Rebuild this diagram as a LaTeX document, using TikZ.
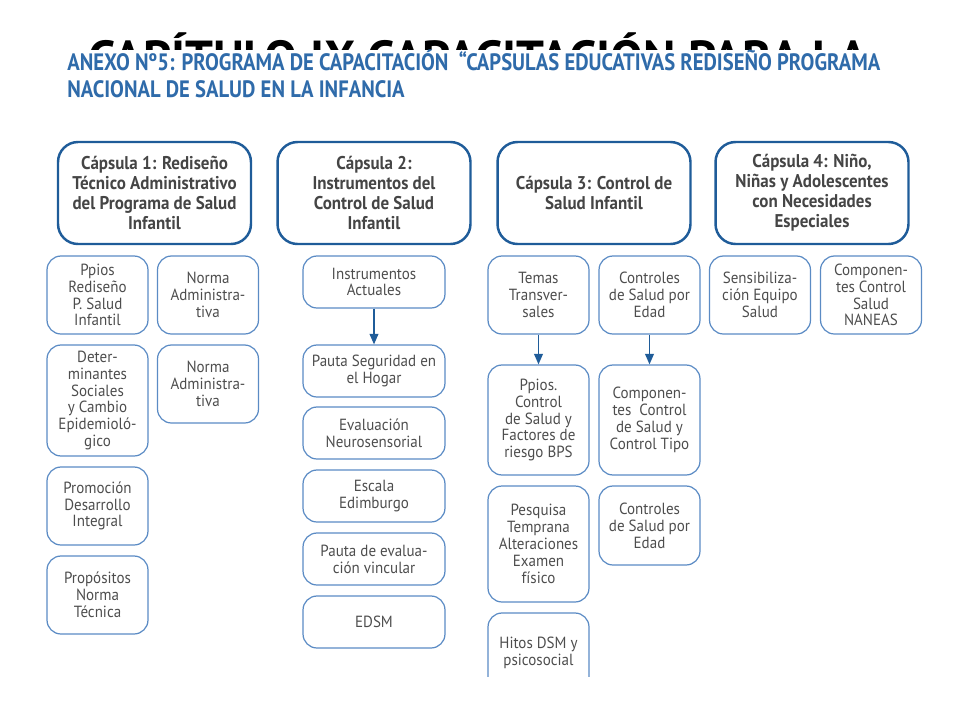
\documentclass[tikz,border=0pt]{standalone}
\usepackage{fontspec}
\setmainfont{PT Sans}[FakeStretch=0.93]
\newfontfamily\titlefont{PT Sans}[FakeStretch=0.87]
\newfontfamily\headfont{PT Sans}[FakeStretch=0.92]
\newfontfamily\capfont{PT Sans}
\usetikzlibrary{arrows.meta}
\definecolor{headblue}{HTML}{1F5C99}
\definecolor{itemblue}{HTML}{5B8BC4}
\definecolor{titleblue}{HTML}{2F6BAA}
\definecolor{txtgray}{HTML}{4D4D4D}
\tikzset{
  capsula/.style={draw=headblue, line width=1.4pt, rounded corners=0.4cm,
    minimum width=3.86cm, minimum height=2.04cm, align=center, text=txtgray!90!black,
    font=\headfont\bfseries\fontsize{10.5}{11.4}\selectfont},
  tema/.style={draw=itemblue, line width=0.7pt, rounded corners=0.28cm,
    minimum width=2.02cm, align=center, text=txtgray,
    font=\fontsize{9.2}{9.6}\selectfont},
  ancho/.style={minimum width=2.84cm, minimum height=1.04cm},
  flecha/.style={draw=headblue, line width=0.8pt, -{Triangle[width=5pt,length=6pt]}}
}
\begin{document}
\begin{tikzpicture}[x=0.02cm,y=-0.02cm]
\useasboundingbox (0,0) rectangle (960,720);
% titulo de fondo, tapado por el anexo
\node[anchor=north, inner sep=0pt] (capitulo) at (478,32)
  {\resizebox{15.6cm}{!}{\capfont\bfseries CAPÍTULO IX CAPACITACIÓN PARA LA}};
\fill[white] (0,50) rectangle (960,110);
\node[anchor=base west, inner sep=0pt, text=titleblue, font=\titlefont\bfseries\fontsize{13.5}{15}\selectfont]
  (anexo1) at (67,70) {ANEXO Nº5: PROGRAMA DE CAPACITACIÓN \ “CAPSULAS EDUCATIVAS REDISEÑO PROGRAMA};
\node[anchor=base west, inner sep=0pt, text=titleblue, font=\titlefont\bfseries\fontsize{13.5}{15}\selectfont]
  (anexo2) at (67,97) {NACIONAL DE SALUD EN LA INFANCIA};
\begin{scope}
\clip (0,0) rectangle (960,676);
% capsulas
\node[capsula] (cap1) at (154.5,193) {Cápsula 1: Rediseño\\Técnico Administrativo\\del Programa de Salud\\Infantil};
\node[capsula] (cap2) at (374,193) {Cápsula 2:\\Instrumentos del\\Control de Salud\\Infantil};
\node[capsula] (cap3) at (594,193) {Cápsula 3: Control de\\Salud Infantil};
\node[capsula] (cap4) at (812,193) {Cápsula 4: Niño,\\Niñas y Adolescentes\\con Necesidades\\Especiales};
% capsula 1
\node[tema, minimum height=1.56cm] (ppios) at (97.5,295) {Ppios\\Rediseño\\P. Salud\\Infantil};
\node[tema, minimum height=1.56cm] (norma1) at (208,295) {Norma\\Administra-\\tiva};
\node[tema, minimum height=2.22cm] (determ) at (97.5,400.5) {Deter-\\minantes\\Sociales\\y Cambio\\Epidemioló-\\gico};
\node[tema, minimum height=1.56cm] (norma2) at (208,384) {Norma\\Administra-\\tiva};
\node[tema, minimum height=1.56cm] (promo) at (97.5,506) {Promoción\\Desarrollo\\Integral};
\node[tema, minimum height=1.56cm] (propos) at (97.5,595) {Propósitos\\Norma\\Técnica};
% capsula 2
\node[tema, ancho] (instr) at (374,282) {Instrumentos\\Actuales};
\node[tema, ancho] (segur) at (374,371) {Pauta Seguridad en\\el Hogar};
\node[tema, ancho] (neuro) at (374,433) {Evaluación\\Neurosensorial};
\node[tema, ancho] (edimb) at (374,496) {Escala\\Edimburgo};
\node[tema, ancho] (vincul) at (374,559) {Pauta de evalua-\\ción vincular};
\node[tema, ancho] (edsm) at (374,622) {EDSM};
\draw[flecha] (instr.south) -- (segur.north);
% capsula 3
\node[tema, minimum height=1.56cm] (temas) at (538.5,295) {Temas\\Transver-\\sales};
\node[tema, minimum height=1.56cm] (ctrl1) at (649.5,295) {Controles\\de Salud por\\Edad};
\node[tema, minimum height=2.2cm] (ppiosctrl) at (538.5,420) {Ppios.\\Control\\de Salud y\\Factores de\\riesgo BPS};
\node[tema, minimum height=2.2cm] (compctrl) at (649.5,420) {Componen-\\tes \ Control\\de Salud y\\Control Tipo};
\node[tema, minimum height=2.32cm] (pesq) at (538.5,544) {Pesquisa\\Temprana\\Alteraciones\\Examen\\físico};
\node[tema, minimum height=1.58cm] (ctrl2) at (649.5,525.5) {Controles\\de Salud por\\Edad};
\node[tema, minimum height=1.6cm] (hitos) at (538.5,653) {Hitos DSM y\\psicosocial};
\draw[flecha] (temas.south) -- (ppiosctrl.north);
\draw[flecha] (ctrl1.south) -- (compctrl.north);
% capsula 4
\node[tema, minimum height=1.56cm] (sensib) at (760,295) {Sensibiliza-\\ción Equipo\\Salud};
\node[tema, minimum height=1.56cm] (naneas) at (871,295) {Componen-\\tes Control\\Salud\\NANEAS};
\end{scope}
\end{tikzpicture}
\end{document}
